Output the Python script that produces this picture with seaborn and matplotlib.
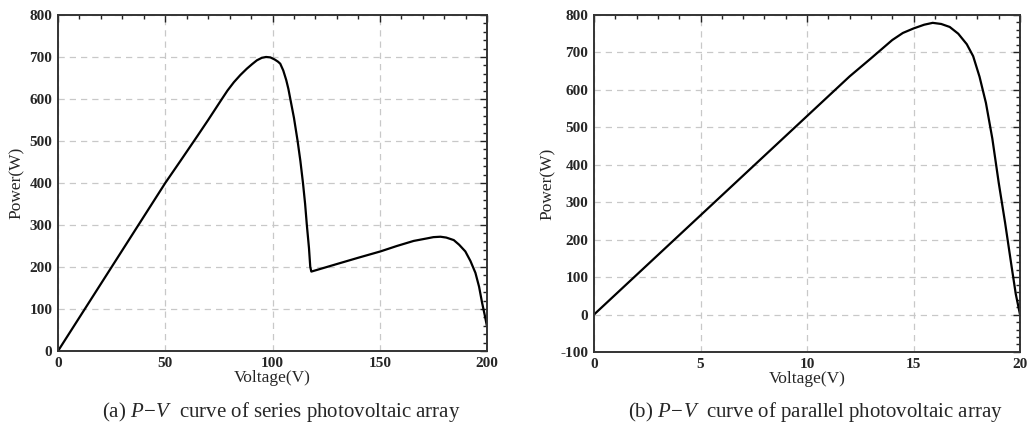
import numpy as np
import pandas as pd
import matplotlib
matplotlib.use("Agg")
import matplotlib.pyplot as plt
import seaborn as sns
from matplotlib.ticker import MultipleLocator

# ----------------------------
# data
# ----------------------------
series_v = [0, 10, 20, 30, 40, 50, 57, 65, 70, 76.4, 79, 82, 85, 88, 90.5, 92.7,
            95, 97, 99, 101, 102.5, 103.6, 105, 106.4, 107.4, 108.3, 110, 111.7,
            113, 114.2, 115.2, 116, 117, 117.6, 118.1, 130, 140, 150.3, 158,
            165.8, 172, 175, 178.3, 181, 184.5, 187, 189.9, 192.3, 194.6, 196.3,
            197.7, 199, 199.7, 200]
series_p = [0, 80, 160, 240, 320, 400, 452, 512, 550, 600, 620, 640, 657, 672, 683, 692,
            698, 700, 699, 694, 689, 684, 668, 645, 624, 600, 555, 500,
            452, 400, 350, 300, 245, 200, 189, 207, 222, 237, 250,
            262, 268, 271, 272, 270, 264, 253, 237, 214, 186, 153,
            115, 84, 66, 58]

parallel_v = [0, 2, 4, 6, 8, 10, 12, 13, 14, 14.5, 15, 15.5, 15.9, 16.3, 16.7,
              17.1, 17.5, 17.8, 18.1, 18.4, 18.7, 19.0, 19.3, 19.6, 19.8, 20]
parallel_p = [0, 106, 212, 318, 424, 530, 636, 684, 733, 752, 764, 774, 779, 776, 768,
              750, 722, 690, 635, 565, 470, 352, 245, 130, 55, 0]

captions = [r"(a) $P\!-\!V$  curve of series photovoltaic array",
            r"(b) $P\!-\!V$  curve of parallel photovoltaic array"]

df_s = pd.DataFrame({"V": series_v, "P": series_p})
df_p = pd.DataFrame({"V": parallel_v, "P": parallel_p})

sns.set_theme(style="white")
plt.rcParams["font.family"] = ["Liberation Serif", "DejaVu Serif"]
plt.rcParams.update({
    "axes.unicode_minus": False,
    "mathtext.fontset": "custom",
    "mathtext.rm": "Liberation Serif",
    "mathtext.it": "Liberation Serif:italic",
    "mathtext.bf": "Liberation Serif:bold",
})

fig = plt.figure(figsize=(10.27, 4.28), dpi=100)
ax1 = fig.add_axes([0.0565, 0.180, 0.4177, 0.785])
ax2 = fig.add_axes([0.5784, 0.1776, 0.4148, 0.7874])


def style_axis(ax, xlim, ylim, xmaj, xmin, ymaj, ymin):
    ax.set_xlim(*xlim)
    ax.set_ylim(*ylim)
    ax.xaxis.set_major_locator(MultipleLocator(xmaj))
    ax.xaxis.set_minor_locator(MultipleLocator(xmin))
    ax.yaxis.set_major_locator(MultipleLocator(ymaj))
    ax.yaxis.set_minor_locator(MultipleLocator(ymin))
    ax.tick_params(which="both", direction="in", top=True, right=True,
                   color="#222222", width=1.0, labelsize=11, pad=4)
    ax.tick_params(which="major", length=5)
    ax.tick_params(which="minor", length=3)
    ax.grid(True, which="major", color="#c8c8c8", linestyle=(0, (5, 4)), linewidth=0.9)
    for sp in ax.spines.values():
        sp.set_linewidth(1.4)
        sp.set_color("#333333")
        sp.set_visible(True)
    plt.setp(ax.get_xticklabels(), fontweight="bold")
    plt.setp(ax.get_yticklabels(), fontweight="bold")
    ax.set_xlabel("Voltage(V)", fontsize=12.5, labelpad=0)
    ax.set_ylabel("Power(W)", fontsize=12.5, labelpad=3)


sns.lineplot(data=df_s, x="V", y="P", ax=ax1, color="black", linewidth=1.6,
             estimator=None, sort=False)
style_axis(ax1, (0, 200), (0, 800), 50, 10, 100, 20)

sns.lineplot(data=df_p, x="V", y="P", ax=ax2, color="black", linewidth=1.6,
             estimator=None, sort=False)
style_axis(ax2, (0, 20), (-100, 800), 5, 1, 100, 20)

fig.text(0.2736, 0.026, captions[0], ha="center", va="baseline", fontsize=15)
fig.text(0.7936, 0.026, captions[1], ha="center", va="baseline", fontsize=15)

fig.savefig("out.png", dpi=100)
